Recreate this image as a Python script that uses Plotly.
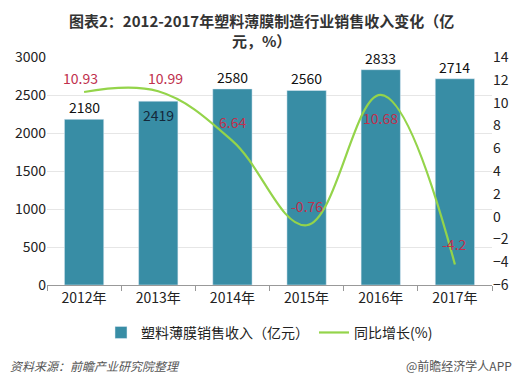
import plotly.graph_objects as go

years = ["2012年", "2013年", "2014年", "2015年", "2016年", "2017年"]
revenue = [2180, 2419, 2580, 2560, 2833, 2714]
growth = [10.93, 10.99, 6.64, -0.76, 10.68, -4.2]
growth_text = ["10.93", "10.99", "6.64", "-0.76", "10.68", "-4.2"]

# label offsets (style only, pixels)
growth_yshift = [14, 13, 19, 19, -23, 20]
growth_xshift = [-4, 7, 0, 0, 0, 0]
bar_inside = [False, True, False, False, False, False]

font_family = "Noto Sans CJK SC, Microsoft YaHei, sans-serif"

fig = go.Figure()
fig.add_trace(go.Bar(
    x=years, y=revenue, name="塑料薄膜销售收入（亿元）",
    marker=dict(color="#388da5"), width=0.53,
))
fig.add_trace(go.Scatter(
    x=years, y=growth, name="同比增长(%)", yaxis="y2",
    mode="lines", line=dict(color="#94d44a", width=2.2, shape="spline", smoothing=1.1),
))

annotations = []
for yr, v, inside in zip(years, revenue, bar_inside):
    annotations.append(dict(
        x=yr, y=v, xref="x", yref="y", text=str(v), showarrow=False,
        yanchor="top" if inside else "bottom", yshift=-2 if inside else 0,
        font=dict(size=14, color="#14283a" if inside else "#111111"),
    ))
for yr, v, t, ys, xs in zip(years, growth, growth_text, growth_yshift, growth_xshift):
    annotations.append(dict(
        x=yr, y=v, xref="x", yref="y2", text=t, showarrow=False,
        yanchor="middle", yshift=ys, xshift=xs,
        font=dict(size=14, color="#c0304d"),
    ))
annotations += [
    dict(text="图表2：2012-2017年塑料薄膜制造行业销售收入变化（亿<br>元，%）",
         xref="paper", yref="paper", x=0.481, y=1.215, xanchor="center", yanchor="top",
         showarrow=False,
         font=dict(size=15, color="#333333", family="Noto Sans CJK SC", weight=700)),
    dict(text="<i>资料来源：前瞻产业研究院整理</i>", xref="paper", yref="paper",
         x=-0.0876, y=-0.355, xanchor="left", yanchor="middle", showarrow=False,
         font=dict(size=12, color="#555555")),
    dict(text="@前瞻经济学人APP", xref="paper", yref="paper",
         x=1.05, y=-0.355, xanchor="right", yanchor="middle", showarrow=False,
         font=dict(size=12, color="#555555")),
]

fig.update_layout(
    width=517, height=376,
    margin=dict(l=39, r=33, t=49, b=99, autoexpand=False),
    paper_bgcolor="white", plot_bgcolor="white",
    font=dict(family=font_family, size=13, color="#222222"),
    xaxis=dict(showgrid=False, showline=True, linecolor="#999999", ticks="outside",
               tickson="boundaries", ticklen=5, tickcolor="#999999",
               tickfont=dict(size=14, color="#222222")),
    yaxis=dict(range=[0, 3000], dtick=500, showgrid=True, gridcolor="#e6e6e6",
               zeroline=False, tickfont=dict(size=14, color="#222222")),
    yaxis2=dict(range=[-6, 14], dtick=2, overlaying="y", side="right", showgrid=False,
                zeroline=False, tickfont=dict(size=14, color="#222222")),
    legend=dict(orientation="h", x=0.5, xanchor="center", y=-0.21, yanchor="middle",
                font=dict(size=14, color="#222222")),
    annotations=annotations,
)

fig.write_html("out.html")
